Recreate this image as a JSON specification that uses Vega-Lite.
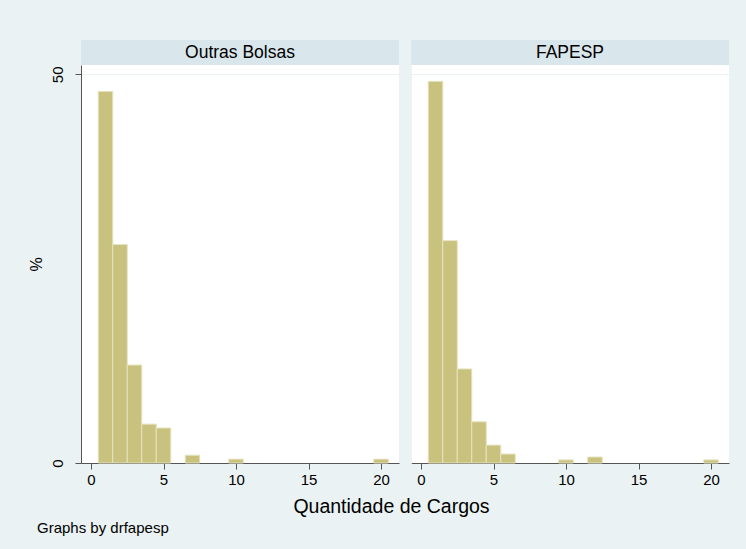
{
  "$schema": "https://vega.github.io/schema/vega-lite/v6.json",
  "background": "#EAF2F3",
  "padding": {"left": 28, "top": 40, "right": 17, "bottom": 13},
  "datasets": {
    "outras": [
      {"start": 0.5, "end": 1.5, "pct": 47.8},
      {"start": 1.5, "end": 2.5, "pct": 28.1},
      {"start": 2.5, "end": 3.5, "pct": 12.6},
      {"start": 3.5, "end": 4.5, "pct": 5.0},
      {"start": 4.5, "end": 5.5, "pct": 4.5},
      {"start": 6.5, "end": 7.5, "pct": 1.0},
      {"start": 9.5, "end": 10.5, "pct": 0.5},
      {"start": 19.5, "end": 20.5, "pct": 0.5}
    ],
    "fapesp": [
      {"start": 0.5, "end": 1.5, "pct": 49.1},
      {"start": 1.5, "end": 2.5, "pct": 28.6},
      {"start": 2.5, "end": 3.5, "pct": 12.1},
      {"start": 3.5, "end": 4.5, "pct": 5.3},
      {"start": 4.5, "end": 5.5, "pct": 2.3},
      {"start": 5.5, "end": 6.5, "pct": 1.15},
      {"start": 9.5, "end": 10.5, "pct": 0.4},
      {"start": 11.5, "end": 12.5, "pct": 0.77},
      {"start": 19.5, "end": 20.5, "pct": 0.4}
    ]
  },
  "config": {
    "font": "Liberation Sans",
    "view": {"stroke": null},
    "axis": {"labelFont": "Liberation Sans", "titleFont": "Liberation Sans", "labelColor": "#000", "titleColor": "#000", "titleFontWeight": "normal"}
  },
  "title": {"text": "Graphs by drfapesp", "orient": "bottom", "anchor": "start", "fontSize": 15, "fontWeight": "normal", "font": "Liberation Sans", "color": "#000", "offset": 4, "dx": 9},
  "vconcat": [
    {
      "title": {"text": "Quantidade de Cargos", "orient": "bottom", "anchor": "middle", "fontSize": 19.5, "fontWeight": "normal", "font": "Liberation Sans", "color": "#000", "offset": 11, "dx": 13},
      "columns": 2,
      "spacing": {"row": 0, "column": 12},
      "concat": [
        {
          "width": 318, "height": 25,
          "data": {"values": [{"panel": "Outras Bolsas"}]},
          "mark": {"type": "text", "fontSize": 17.5, "font": "Liberation Sans", "color": "#000"},
          "encoding": {"text": {"field": "panel"}},
          "view": {"fill": "#D9E6EB", "stroke": null}
        },
        {
          "width": 318, "height": 25,
          "data": {"values": [{"panel": "FAPESP"}]},
          "mark": {"type": "text", "fontSize": 17.5, "font": "Liberation Sans", "color": "#000"},
          "encoding": {"text": {"field": "panel"}},
          "view": {"fill": "#D9E6EB", "stroke": null}
        },
        {
          "width": 318, "height": 398,
          "data": {"name": "outras"},
          "mark": {"type": "bar", "fill": "#C9C17E", "stroke": "#E6E2BF", "strokeWidth": 1},
          "encoding": {
            "x": {"field": "start", "type": "quantitative", "scale": {"domain": [-0.69, 21.24], "nice": false, "zero": false},
                  "axis": {"values": [0, 5, 10, 15, 20], "title": null, "grid": false, "labelFontSize": 15, "labelFlush": false, "tickSize": 6, "tickColor": "#555", "domainColor": "#555", "labelPadding": 3}},
            "x2": {"field": "end"},
            "y": {"field": "pct", "type": "quantitative", "scale": {"domain": [0, 51.2], "nice": false},
                  "axis": {"values": [0, 50], "title": "%", "titleFontSize": 16, "titlePadding": 6, "labelAngle": -90, "labelFontSize": 15, "labelFlush": false, "tickSize": 6, "tickColor": "#555", "domainColor": "#555", "labelPadding": 10, "grid": true, "gridColor": "#EAF2F3", "gridWidth": 1}},
            "y2": {"datum": 0}
          },
          "view": {"fill": "#FFFFFF", "stroke": null}
        },
        {
          "width": 318, "height": 398,
          "data": {"name": "fapesp"},
          "mark": {"type": "bar", "fill": "#C9C17E", "stroke": "#E6E2BF", "strokeWidth": 1},
          "encoding": {
            "x": {"field": "start", "type": "quantitative", "scale": {"domain": [-0.69, 21.24], "nice": false, "zero": false},
                  "axis": {"values": [0, 5, 10, 15, 20], "title": null, "grid": false, "labelFontSize": 15, "labelFlush": false, "tickSize": 6, "tickColor": "#555", "domainColor": "#555", "labelPadding": 3}},
            "x2": {"field": "end"},
            "y": {"field": "pct", "type": "quantitative", "scale": {"domain": [0, 51.2], "nice": false},
                  "axis": {"values": [0, 50], "title": null, "labels": false, "ticks": false, "domain": true, "domainColor": "#EDF2F5", "grid": true, "gridColor": "#EAF2F3", "gridWidth": 1}},
            "y2": {"datum": 0}
          },
          "view": {"fill": "#FFFFFF", "stroke": null}
        }
      ]
    }
  ]
}
